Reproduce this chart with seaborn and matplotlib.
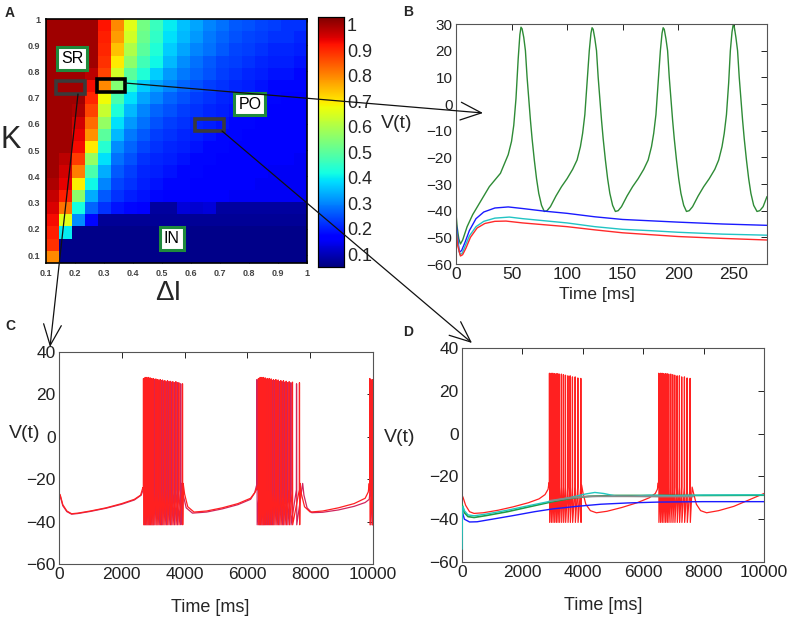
import numpy as np
import pandas as pd
import seaborn as sns
import matplotlib
matplotlib.use("Agg")
import matplotlib.pyplot as plt
from matplotlib.patches import Rectangle, FancyArrowPatch
from matplotlib.transforms import IdentityTransform

sns.set_theme(style="white")
plt.rcParams["font.family"] = ["Liberation Sans", "DejaVu Sans"]
plt.rcParams["axes.unicode_minus"] = True

# ---------------------------------------------------------------- data
# Panel A: fraction map, rows from K=1 (top) down to K~0.07 (bottom), columns dI 0.1 -> 1
heat_rows = [
    [1.0, 1.0, 1.0, 1.0, 0.92, 0.80, 0.66, 0.53, 0.46, 0.40, 0.36, 0.33, 0.30, 0.28, 0.26, 0.25, 0.24, 0.23, 0.22, 0.22],
    [1.0, 1.0, 1.0, 1.0, 0.91, 0.78, 0.64, 0.52, 0.45, 0.39, 0.35, 0.32, 0.29, 0.27, 0.25, 0.24, 0.23, 0.22, 0.22, 0.21],
    [1.0, 1.0, 1.0, 1.0, 0.90, 0.74, 0.60, 0.50, 0.43, 0.37, 0.33, 0.30, 0.28, 0.26, 0.24, 0.23, 0.22, 0.21, 0.21, 0.20],
    [1.0, 1.0, 1.0, 1.0, 0.89, 0.70, 0.56, 0.47, 0.41, 0.35, 0.31, 0.28, 0.26, 0.24, 0.23, 0.22, 0.21, 0.20, 0.20, 0.19],
    [1.0, 1.0, 1.0, 0.98, 0.87, 0.64, 0.50, 0.43, 0.37, 0.32, 0.29, 0.27, 0.25, 0.23, 0.22, 0.21, 0.20, 0.19, 0.19, 0.18],
    [1.0, 1.0, 1.0, 0.93, 0.80, 0.55, 0.44, 0.37, 0.33, 0.30, 0.27, 0.25, 0.23, 0.22, 0.21, 0.20, 0.19, 0.18, 0.18, 0.18],
    [1.0, 1.0, 1.0, 0.90, 0.68, 0.48, 0.39, 0.33, 0.30, 0.27, 0.25, 0.23, 0.22, 0.21, 0.20, 0.19, 0.18, 0.18, 0.17, 0.17],
    [1.0, 1.0, 0.99, 0.87, 0.63, 0.43, 0.35, 0.30, 0.27, 0.25, 0.23, 0.22, 0.21, 0.20, 0.19, 0.18, 0.18, 0.17, 0.17, 0.17],
    [1.0, 1.0, 0.96, 0.83, 0.57, 0.39, 0.32, 0.28, 0.25, 0.23, 0.22, 0.21, 0.20, 0.19, 0.18, 0.18, 0.17, 0.17, 0.16, 0.16],
    [1.0, 1.0, 0.94, 0.79, 0.50, 0.35, 0.29, 0.26, 0.23, 0.22, 0.21, 0.20, 0.19, 0.18, 0.18, 0.17, 0.17, 0.16, 0.16, 0.16],
    [1.0, 1.0, 0.93, 0.70, 0.44, 0.31, 0.27, 0.24, 0.22, 0.21, 0.20, 0.19, 0.18, 0.18, 0.17, 0.17, 0.16, 0.16, 0.16, 0.16],
    [1.0, 0.98, 0.88, 0.57, 0.39, 0.28, 0.25, 0.22, 0.21, 0.20, 0.19, 0.18, 0.18, 0.17, 0.17, 0.16, 0.16, 0.16, 0.16, 0.15],
    [1.0, 0.96, 0.81, 0.48, 0.34, 0.26, 0.23, 0.21, 0.20, 0.19, 0.18, 0.18, 0.17, 0.17, 0.16, 0.16, 0.16, 0.15, 0.15, 0.15],
    [0.99, 0.94, 0.69, 0.41, 0.30, 0.24, 0.22, 0.20, 0.19, 0.18, 0.18, 0.17, 0.17, 0.16, 0.16, 0.16, 0.15, 0.15, 0.15, 0.15],
    [0.97, 0.91, 0.56, 0.34, 0.26, 0.22, 0.20, 0.19, 0.18, 0.17, 0.17, 0.16, 0.16, 0.16, 0.15, 0.15, 0.15, 0.15, 0.15, 0.15],
    [0.95, 0.82, 0.42, 0.27, 0.22, 0.19, 0.18, 0.17, 0.08, 0.08, 0.13, 0.12, 0.13, 0.08, 0.08, 0.08, 0.08, 0.08, 0.08, 0.08],
    [0.93, 0.66, 0.31, 0.18, 0.07, 0.07, 0.07, 0.07, 0.07, 0.07, 0.07, 0.07, 0.07, 0.07, 0.07, 0.07, 0.07, 0.07, 0.07, 0.07],
    [0.91, 0.40, 0.06, 0.06, 0.06, 0.06, 0.06, 0.06, 0.06, 0.06, 0.06, 0.06, 0.06, 0.06, 0.06, 0.06, 0.06, 0.06, 0.06, 0.06],
    [0.89, 0.06, 0.06, 0.06, 0.06, 0.06, 0.06, 0.06, 0.06, 0.06, 0.06, 0.06, 0.06, 0.06, 0.06, 0.06, 0.06, 0.06, 0.06, 0.06],
    [0.80, 0.06, 0.06, 0.06, 0.06, 0.06, 0.06, 0.06, 0.06, 0.06, 0.06, 0.06, 0.06, 0.06, 0.06, 0.06, 0.06, 0.06, 0.06, 0.06],
]
dI_range = (0.1, 1.0)
K_range = (0.07, 1.0)
dI_ticks = [0.1, 0.2, 0.3, 0.4, 0.5, 0.6, 0.7, 0.8, 0.9, 1.0]
dI_labels = ["0.1", "0.2", "0.3", "0.4", "0.5", "0.6", "0.7", "0.8", "0.9", "1"]
K_ticks = [0.1, 0.2, 0.3, 0.4, 0.5, 0.6, 0.7, 0.8, 0.9, 1.0]
K_labels = ["0.1", "0.2", "0.3", "0.4", "0.5", "0.6", "0.7", "0.8", "0.9", "1"]
cbar_ticks = [0.1, 0.2, 0.3, 0.4, 0.5, 0.6, 0.7, 0.8, 0.9, 1.0]
cbar_labels = ["0.1", "0.2", "0.3", "0.4", "0.5", "0.6", "0.7", "0.8", "0.9", "1"]
region_labels = [("SR", 0.19, 0.848), ("PO", 0.803, 0.676), ("IN", 0.534, 0.165)]
# selected parameter boxes (dI0, dI1, K0, K1)
sel_boxes = [((0.134, 0.234, 0.714, 0.764), "#3a3a3a"),
             ((0.276, 0.372, 0.722, 0.771), "#000000"),
             ((0.614, 0.714, 0.573, 0.619), "#3a3a3a")]

# Panel B traces (t [ms], V)
B_green = [(0, -41), (1, -46), (2.5, -50.5), (4, -52.5), (6, -51), (10, -46), (15, -41.5), (20, -38), (25, -34.5),
           (30, -31), (35, -28.5), (40, -26), (44, -22), (47, -19), (50, -14), (52, -8), (54, 2), (56, 17),
           (57.5, 26), (58.5, 28.8), (59.5, 28.2), (61, 25), (62.5, 20), (64, 10), (65.5, 2), (67, -6),
           (68.5, -13), (70.5, -21), (72.5, -28), (74.5, -33.5), (77, -38), (79.5, -40.3),
           (82, -40), (85, -38.5), (90, -34.5), (95, -31), (100, -28), (105, -24.5), (109, -21), (112, -16),
           (114, -11), (116, -4), (118, 8), (120, 20), (121.5, 26.5), (122.5, 28.6), (123.5, 28), (125, 24.5),
           (126.5, 20), (128, 10), (129.5, 2), (131, -6), (132.5, -13), (134.5, -21), (136.5, -28),
           (138.5, -33.5), (141, -38), (143.5, -40.3),
           (146, -40), (149, -38.5), (154, -34.5), (159, -31), (164, -28), (169, -24.5), (173, -21), (176, -16),
           (178, -11), (180, -4), (182, 8), (184, 20), (185.5, 26.5), (186.5, 28.6), (187.5, 28), (189, 24.5),
           (190.5, 20), (192, 10), (193.5, 2), (195, -6), (196.5, -13), (198.5, -21), (200.5, -28),
           (202.5, -33.5), (205, -38), (207.5, -40.3),
           (210, -40), (213, -38.5), (218, -34.5), (223, -31), (228, -28), (233, -24.5), (236.5, -21),
           (239.5, -16), (241.5, -11), (243.5, -4), (245.5, 8), (247, 20), (248.5, 27), (249.5, 29.6),
           (250.5, 29), (252, 25), (253.5, 20), (255, 10), (256.5, 2), (258, -6), (259.5, -13), (261.5, -21),
           (263.5, -28), (265.5, -33.5), (268, -38), (271, -40.3), (273.5, -40), (276.5, -38.5), (280, -34.7)]
B_blue = [(0, -44), (1.5, -50), (3, -55.5), (5, -55), (8, -52), (12, -47.5), (18, -43), (25, -40.5), (35, -39),
          (47, -38.6), (60, -39.2), (80, -40.2), (100, -41), (125, -42.3), (150, -43.3), (175, -43.8),
          (200, -44.3), (240, -45), (280, -45.5)]
B_cyan = [(0, -46), (1.5, -52), (3.5, -56.5), (5.5, -56), (8, -53.5), (12, -49.5), (18, -46), (25, -44),
          (35, -42.8), (48, -42.4), (60, -43), (80, -43.8), (100, -44.6), (125, -46), (150, -47), (175, -47.5),
          (200, -48.1), (240, -48.8), (280, -49.2)]
B_red = [(0, -47), (1.5, -53), (4, -57), (6, -56.5), (9, -54), (13, -50), (19, -46.5), (26, -44.8), (35, -44),
         (45, -43.9), (60, -44.6), (80, -45.3), (100, -46), (125, -47.2), (150, -48.3), (175, -49), (200, -49.7),
         (240, -50.4), (280, -51)]

# Panel C: slow segments between bursts, and spike times / peaks within bursts
C_seg1 = [(0, -53), (8, -32), (20, -27), (50, -28), (120, -32), (250, -35), (400, -36.3), (600, -36),
          (1000, -35), (1500, -33.5), (2000, -31.5), (2400, -29.5), (2600, -27.5), (2670, -24)]
C_burst1_t = [2686, 2739, 2792, 2845, 2898, 2952, 3005, 3079, 3143, 3217, 3291, 3366, 3450, 3535, 3620, 3716,
              3811, 3928]
C_burst1_peak = [27.5, 28, 28, 28, 27.8, 27.5, 27.5, 27.3, 27, 27, 26.8, 26.5, 26.5, 26.2, 26, 26, 25.5, 25]
C_seg2 = [(3955, -22), (4000, -27), (4100, -33), (4300, -35.5), (4700, -35), (5200, -33.5), (5700, -31.5),
          (6100, -29), (6250, -26), (6330, -23)]
C_burst2_t = [6347, 6401, 6455, 6506, 6561, 6624, 6688, 6752, 6825, 6901, 6975, 7060, 7143, 7229, 7325, 7430,
              7653]
C_burst2_peak = [27.5, 28, 28, 28, 27.8, 27.5, 27.5, 27.3, 27, 27, 26.8, 26.5, 26.5, 26.2, 26, 25.8, 25.5]
C_seg3 = [(7680, -22), (7720, -27), (7820, -33), (8000, -35.5), (8400, -35), (8900, -33.5), (9400, -31.5),
          (9750, -29), (9850, -26), (9880, -22)]
C_burst3_t = [9894, 9968]
C_burst3_peak = [27.5, 27]
C_end = [(10000, -40)]
# second (underlying) trace in C
C2_seg1 = [(0, -50), (8, -31), (20, -27.5), (50, -28.5), (120, -32.5), (250, -35.3), (400, -36.5), (600, -36.2),
           (1000, -35.2), (1500, -33.7), (2000, -31.8), (2400, -29.8), (2620, -27.5), (2700, -24)]
C2_burst1_t = [2712, 2766, 2818, 2872, 2925, 2979, 3040, 3110, 3180, 3254, 3328, 3408, 3492, 3578, 3668, 3764, 3870]
C2_burst1_peak = [27, 27.5, 27.5, 27.5, 27.3, 27, 27, 26.8, 26.5, 26.5, 26.3, 26, 26, 25.8, 25.5, 25.5, 25]
C2_seg2 = [(3900, -22), (3950, -27), (4050, -33.5), (4250, -36), (4700, -35.5), (5200, -34), (5700, -32),
           (6100, -29.5), (6230, -26.5), (6290, -23)]
C2_burst2_t = [6300, 6375, 6428, 6480, 6533, 6592, 6656, 6720, 6788, 6862, 6938, 7018, 7100, 7186, 7276, 7378,
               7560]
C2_burst2_peak = [27, 27.5, 27.5, 27.5, 27.3, 27, 27, 26.8, 26.5, 26.5, 26.3, 26, 26, 25.8, 25.5, 25.5, 25]
C2_seg3 = [(7760, -22), (7800, -27.5), (7900, -33.5), (8050, -35.8), (8400, -35.6), (8900, -34.5), (9400, -32.8),
           (9750, -31), (9880, -29.5), (9910, -25)]
C2_burst3_t = [9920, 9975]
C2_burst3_peak = [27, 26.5]
C2_end = [(10000, -40)]

# Panel D
D_seg1 = [(0, -33), (10, -29), (40, -30), (120, -33.5), (250, -36.5), (400, -37.3), (700, -37), (1200, -35.8),
          (1700, -34.2), (2200, -32.3), (2550, -30.5), (2750, -28.5), (2850, -26), (2880, -23)]
D_burst1_t = [2891, 2947, 3002, 3057, 3113, 3168, 3223, 3289, 3355, 3421, 3500, 3576, 3652, 3742, 3831, 3930]
D_burst1_peak = [28.2, 28.2, 28.2, 28, 28, 28, 27.8, 27.8, 27.5, 27.3, 27, 27, 26.5, 26.5, 26, 25.8]
D_seg2 = [(3960, -24), (4010, -28), (4100, -33), (4250, -36), (4450, -37), (4800, -36.3), (5300, -34.5),
          (5800, -32.3), (6200, -30), (6400, -28), (6470, -26), (6500, -23)]
D_burst2_t = [6509, 6565, 6620, 6675, 6731, 6786, 6841, 6907, 6973, 7039, 7118, 7194, 7270, 7360, 7449, 7548]
D_burst2_peak = [28.2, 28.2, 28.2, 28, 28, 28, 27.8, 27.8, 27.5, 27.3, 27, 27, 26.5, 26.5, 26, 25.8]
D_seg3 = [(7620, -25), (7670, -28), (7760, -33), (7900, -36), (8100, -37), (8500, -36), (9000, -34),
          (9500, -31), (10000, -28)]
D_green = [(0, -33), (20, -34), (80, -37), (200, -38.8), (400, -39.2), (800, -38.3), (1500, -36.5), (2200, -34.3),
           (3000, -31.8), (3600, -30.3), (4200, -29.3), (5000, -28.9), (6000, -28.9), (8000, -28.9), (10000, -28.8)]
D_cyan = [(0, -54), (10, -40), (30, -34), (80, -36), (200, -38), (400, -38.4), (800, -37.6), (1500, -35.8),
          (2200, -33.7), (3000, -31.4), (3600, -29.8), (4100, -28.2), (4400, -27.5), (4700, -28), (5100, -29.2),
          (5600, -29.3), (6200, -28.8), (7000, -29), (8000, -28.7), (10000, -28.6)]
D_gray = [(2900, -31.4), (3500, -30.2), (4000, -29.5), (4500, -29.3), (5500, -29.3), (6500, -29.4), (7650, -29.4)]
D_blue = [(0, -35), (20, -37), (80, -40), (250, -41.3), (500, -41.2), (1000, -40), (1700, -38.3), (2400, -36.5),
          (3000, -35.2), (3800, -34), (4600, -33), (5500, -32.4), (6500, -32), (8000, -31.8), (10000, -31.8)]

SPIKE_PRE = -25.0
SPIKE_TROUGH = -41.5

# ---------------------------------------------------------------- helpers
W, H = 791, 624
fig = plt.figure(figsize=(W / 100, H / 100), dpi=100)
fig.patch.set_facecolor("white")


def ax_px(l, t, r, b):
    return fig.add_axes([l / W, 1 - b / H, (r - l) / W, (b - t) / H])


def burst(times, peaks):
    pts = []
    for t, p in zip(times, peaks):
        pts += [(t, SPIKE_PRE), (t + 5, p), (t + 12, SPIKE_TROUGH)]
    return pts


def draw(ax, pts, color, lw=1.0, z=2):
    df = pd.DataFrame(pts, columns=["t", "v"])
    sns.lineplot(data=df, x="t", y="v", ax=ax, color=color, lw=lw, sort=False, estimator=None, zorder=z)


def style_trace_ax(ax, xlim, ylim, xticks, yticks, xfs, yfs):
    ax.set_xlim(*xlim)
    ax.set_ylim(*ylim)
    ax.set_xticks(xticks)
    ax.set_yticks(yticks)
    ax.set_xticklabels([str(v) for v in xticks], fontsize=xfs)
    ax.set_yticklabels([("\u2212" + str(-v)) if v < 0 else str(v) for v in yticks], fontsize=yfs)
    ax.set_xlabel("")
    ax.set_ylabel("")
    ax.tick_params(direction="in", length=4, width=0.7, top=True, right=True, pad=2.5, colors="#222222")
    for s in ax.spines.values():
        s.set_visible(True)
        s.set_color("#555555")
        s.set_linewidth(0.8)


def ftext(x, y, s, **kw):
    fig.text(x / W, 1 - y / H, s, **kw)


# ---------------------------------------------------------------- panel A
axA = ax_px(46, 19, 307, 263)
cax = ax_px(318, 17, 344, 267)
heat = pd.DataFrame(heat_rows)
sns.heatmap(heat, ax=axA, cbar_ax=cax, cmap="jet", vmin=0.05, vmax=1.03,
            xticklabels=False, yticklabels=False, cbar_kws={"ticks": cbar_ticks})
ncol, nrow = heat.shape[1], heat.shape[0]


def hx(v):
    return (v - dI_range[0]) / (dI_range[1] - dI_range[0]) * ncol


def hy(k):
    return (K_range[1] - k) / (K_range[1] - K_range[0]) * nrow


axA.set_xticks([hx(v) for v in dI_ticks])
axA.set_xticklabels(dI_labels, fontsize=6.5, fontweight="bold", color="#444444")
axA.set_yticks([hy(k) for k in K_ticks])
axA.set_yticklabels(K_labels, fontsize=6.5, fontweight="bold", color="#444444", rotation=0)
axA.tick_params(direction="in", length=2.5, width=0.6, top=True, right=True, bottom=True, left=True, pad=4)
axA.set_xlabel("")
axA.set_ylabel("")
for s in axA.spines.values():
    s.set_visible(True)
    s.set_color("black")
    s.set_linewidth(1.2)

for (x0, x1, k0, k1), col in sel_boxes:
    axA.add_patch(Rectangle((hx(x0), hy(k1)), hx(x1) - hx(x0), hy(k0) - hy(k1), fill=False,
                            ec=col, lw=2.6, zorder=5))
for name, xv, kv in region_labels:
    axA.text(hx(xv), hy(kv), name, ha="center", va="center", fontsize=11.5, color="black", zorder=6,
             bbox=dict(boxstyle="square,pad=0.25", fc="white", ec="#1f8a3c", lw=2.2))

cax.set_yticklabels(cbar_labels, fontsize=13)
cax.tick_params(direction="in", length=3, width=0.6, right=True, pad=2)
for s in cax.spines.values():
    s.set_visible(True)
    s.set_color("black")
    s.set_linewidth(0.8)

ftext(11, 140, "K", fontsize=22, ha="center", va="center")
ftext(168, 293, "\u0394I", fontsize=20, ha="center", va="center")
ftext(10, 13, "A", fontsize=10, fontweight="bold", ha="center", va="center")

# ---------------------------------------------------------------- panel B
axB = ax_px(456, 24, 767, 264)
draw(axB, B_green, "#2e8b36")
draw(axB, B_blue, "#1a1aff")
draw(axB, B_cyan, "#22c4c4")
draw(axB, B_red, "#ff2a2a")
style_trace_ax(axB, (0, 280), (-60, 30), [0, 50, 100, 150, 200, 250],
               [-60, -50, -40, -30, -20, -10, 0, 10, 20, 30], 12.5, 11)
ftext(408, 12, "B", fontsize=10, fontweight="bold", ha="center", va="center")
ftext(397, 124, "V(t)", fontsize=14, ha="center", va="center")
ftext(597, 294, "Time [ms]", fontsize=12.5, ha="center", va="center")

# ---------------------------------------------------------------- panel C
axC = ax_px(59, 352, 373, 564)
C2 = C2_seg1 + burst(C2_burst1_t, C2_burst1_peak) + C2_seg2 + burst(C2_burst2_t, C2_burst2_peak) + C2_seg3 + \
     burst(C2_burst3_t, C2_burst3_peak) + C2_end
C1 = C_seg1 + burst(C_burst1_t, C_burst1_peak) + C_seg2 + burst(C_burst2_t, C_burst2_peak) + C_seg3 + \
     burst(C_burst3_t, C_burst3_peak) + C_end
draw(axC, C2, "#d0245e", lw=0.9)
draw(axC, C1, "#ff2020", lw=0.9)
style_trace_ax(axC, (0, 10000), (-60, 40), [0, 2000, 4000, 6000, 8000, 10000],
               [-60, -40, -20, 0, 20, 40], 12.5, 12.5)
ftext(10, 326, "C", fontsize=10, fontweight="bold", ha="center", va="center")
ftext(25, 433, "V(t)", fontsize=14, ha="center", va="center")
ftext(210, 607, "Time [ms]", fontsize=13, ha="center", va="center")

# ---------------------------------------------------------------- panel D
axD = ax_px(462, 348, 764, 562)
D_red = D_seg1 + burst(D_burst1_t, D_burst1_peak) + D_seg2 + burst(D_burst2_t, D_burst2_peak) + D_seg3
draw(axD, D_red, "#ff2020", lw=0.9, z=2)
draw(axD, D_blue, "#1a1aff", lw=1.0, z=3)
draw(axD, D_green, "#1e9a46", lw=1.2, z=3)
draw(axD, D_cyan, "#22c8c0", lw=1.0, z=3)
draw(axD, D_gray, "#8a8a8a", lw=1.3, z=4)
style_trace_ax(axD, (0, 10000), (-60, 40), [0, 2000, 4000, 6000, 8000, 10000],
               [-60, -40, -20, 0, 20, 40], 12.5, 12.5)
ftext(408, 332, "D", fontsize=10, fontweight="bold", ha="center", va="center")
ftext(400, 437, "V(t)", fontsize=14, ha="center", va="center")
ftext(603, 606, "Time [ms]", fontsize=13, ha="center", va="center")

# ---------------------------------------------------------------- connector arrows (figure pixels, top-left origin)
arrows = [((125, 83), (483, 113)), ((222, 131), (472, 343)), ((78, 94), (50, 347))]
for (x0, y0), (x1, y1) in arrows:
    arr = FancyArrowPatch((x0, H - y0), (x1, H - y1), transform=IdentityTransform(),
                          arrowstyle="->,head_length=0.75,head_width=0.32", mutation_scale=20,
                          lw=0.9, color="#111111", shrinkA=0, shrinkB=0, zorder=10)
    fig.add_artist(arr)

fig.savefig("out.png", dpi=100)
